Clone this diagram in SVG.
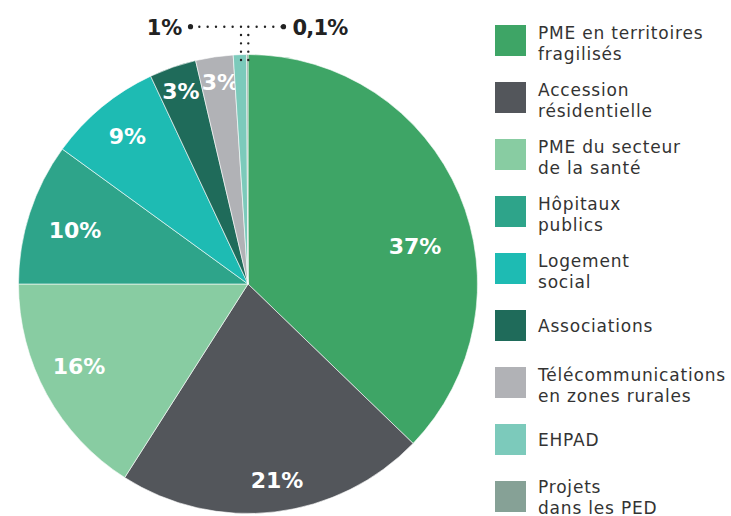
<svg xmlns="http://www.w3.org/2000/svg" width="731" height="516" viewBox="0 0 731 516">
<style>
.sl{stroke:#fff;stroke-width:0.6;stroke-linejoin:round}
.pct{font-family:"DejaVu Sans","Liberation Sans",sans-serif;font-weight:bold;font-size:22px;fill:#fff;text-anchor:middle}
.out{font-family:"DejaVu Sans","Liberation Sans",sans-serif;font-weight:bold;font-size:21px;fill:#222;text-anchor:middle}
.lg{font-family:"DejaVu Sans","Liberation Sans",sans-serif;font-size:17px;letter-spacing:0.8px;fill:#333}
.dot{fill:none;stroke:#222;stroke-width:2.4;stroke-linecap:round;stroke-dasharray:0 8.33}
</style>
<rect width="731" height="516" fill="#fff"/>
<g id="pie">
<g id="slice-pme-territoires"><path class="sl" fill="#3ea566" d="M248 284 L248 54.5 A229.5 229.5 0 0 1 413.09 443.42 Z"/><text class="pct" x="415" y="254">37%</text></g>
<g id="slice-accession"><path class="sl" fill="#53565b" d="M248 284 L413.09 443.42 A229.5 229.5 0 0 1 124.69 477.56 Z"/><text class="pct" x="277" y="488">21%</text></g>
<g id="slice-pme-sante"><path class="sl" fill="#88cca2" d="M248 284 L124.69 477.56 A229.5 229.5 0 0 1 18.5 284 Z"/><text class="pct" x="79" y="374">16%</text></g>
<g id="slice-hopitaux"><path class="sl" fill="#2ea48a" d="M248 284 L18.5 284 A229.5 229.5 0 0 1 62.33 149.1 Z"/><text class="pct" x="75" y="238">10%</text></g>
<g id="slice-logement"><path class="sl" fill="#1ebbb3" d="M248 284 L62.33 149.1 A229.5 229.5 0 0 1 150.65 76.17 Z"/><text class="pct" x="127.5" y="144">9%</text></g>
<g id="slice-associations"><path class="sl" fill="#1f6b5a" d="M248 284 L150.65 76.17 A229.5 229.5 0 0 1 195.59 60.56 Z"/><text class="pct" x="181" y="99">3%</text></g>
<g id="slice-telecom"><path class="sl" fill="#b1b2b6" d="M248 284 L195.59 60.56 A229.5 229.5 0 0 1 233.19 54.98 Z"/><text class="pct" x="220.5" y="90">3%</text></g>
<g id="slice-ehpad"><path class="sl" fill="#7ccabb" d="M248 284 L233.19 54.98 A229.5 229.5 0 0 1 246.56 54.5 Z"/></g>
<g id="slice-projets"><path class="sl" fill="#86a196" d="M248 284 L246.56 54.5 A229.5 229.5 0 0 1 248 54.5 Z"/></g>
</g>
<g id="connectors">
<path class="dot" d="M241 60 L241 26.7 L191 26.7"/>
<path class="dot" d="M248.3 60 L248.3 26.7 L283.5 26.7"/>
<circle cx="190.5" cy="26.7" r="2.6" fill="#222"/>
<circle cx="283.5" cy="26.7" r="2.6" fill="#222"/>
</g>
<g id="callout-1"><text class="out" x="164.5" y="34.5">1%</text></g>
<g id="callout-01"><text class="out" x="320" y="34.5" letter-spacing="-0.8">0,1%</text></g>
<g id="legend">
<g id="lg-1"><rect x="495" y="25" width="31" height="31" fill="#3ea566"/><text class="lg" x="538" y="39">PME en territoires</text><text class="lg" x="538" y="60">fragilisés</text></g>
<g id="lg-2"><rect x="495" y="82" width="31" height="31" fill="#53565b"/><text class="lg" x="538" y="96">Accession</text><text class="lg" x="538" y="117">résidentielle</text></g>
<g id="lg-3"><rect x="495" y="139" width="31" height="31" fill="#88cca2"/><text class="lg" x="538" y="153">PME du secteur</text><text class="lg" x="538" y="174">de la santé</text></g>
<g id="lg-4"><rect x="495" y="196" width="31" height="31" fill="#2ea48a"/><text class="lg" x="538" y="210">Hôpitaux</text><text class="lg" x="538" y="231">publics</text></g>
<g id="lg-5"><rect x="495" y="253" width="31" height="31" fill="#1ebbb3"/><text class="lg" x="538" y="267">Logement</text><text class="lg" x="538" y="288">social</text></g>
<g id="lg-6"><rect x="495" y="310" width="31" height="31" fill="#1f6b5a"/><text class="lg" x="538" y="332">Associations</text></g>
<g id="lg-7"><rect x="495" y="367" width="31" height="31" fill="#b1b2b6"/><text class="lg" x="538" y="381">Télécommunications</text><text class="lg" x="538" y="402">en zones rurales</text></g>
<g id="lg-8"><rect x="495" y="424" width="31" height="31" fill="#7ccabb"/><text class="lg" x="538" y="446">EHPAD</text></g>
<g id="lg-9"><rect x="495" y="481" width="31" height="31" fill="#86a196"/><text class="lg" x="538" y="493">Projets</text><text class="lg" x="538" y="513.5">dans les PED</text></g>
</g>
</svg>
